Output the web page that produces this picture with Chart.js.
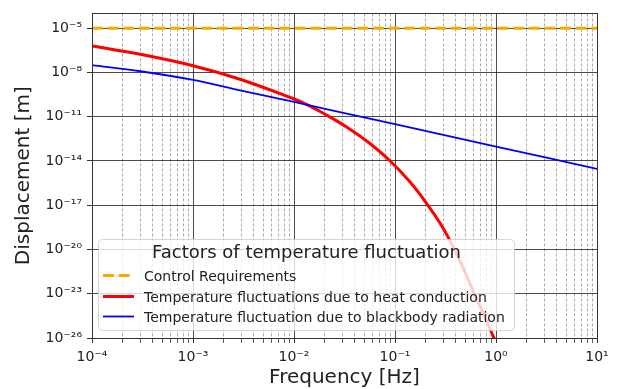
<!DOCTYPE html>
<html>
<head>
<meta charset="utf-8">
<title>Temperature fluctuation factors</title>
<script src="https://cdn.jsdelivr.net/npm/chart.js@4.4.1/dist/chart.umd.min.js"></script>
<style>
  body { margin: 0; background: #fff; }
  #wrap { width: 618px; height: 389px; position: relative; }
</style>
</head>
<body>
<div id="wrap"><canvas id="tempChart"></canvas></div>
<script>
// requirement level (flat)
const requirementFreq = [1e-4, 1e1];
const requirementDisp = [1e-5, 1e-5];

// displacement from heat conduction [Hz] / [m]
const heatFreq = [1e-4, 2.99e-4, 1e-3, 2.92e-3, 1.0e-2, 1.345e-2, 2.12e-2, 3.58e-2, 5.65e-2, 8.91e-2,
                  0.141, 0.207, 0.279, 0.351, 0.441, 0.553, 0.695, 0.955, 1.10];
const heatDisp = [6.2e-7, 1.7e-7, 2.85e-8, 3.44e-9, 1.58e-10, 6.55e-11, 1.24e-11, 1.43e-12, 1.53e-13, 1.03e-14,
                  3.72e-16, 1.25e-17, 6.19e-19, 3.85e-20, 1.63e-21, 4.7e-23, 1.36e-24, 9.8e-27, 8.3e-28];

// displacement from blackbody radiation
const bbFreq = [1e-4, 3.0e-4, 1e-3, 2.92e-3, 1.0e-2, 4.8e-2, 0.1, 1, 10];
const bbDisp = [3.1e-8, 1.2e-8, 3.1e-9, 6.0e-10, 1.0e-10, 9.3e-12, 3.1e-12, 9.5e-14, 2.9e-15];

const xDecades = [1e-4, 1e-3, 1e-2, 1e-1, 1e0, 1e1];
const xMinorSteps = [2, 3, 4, 5, 6, 7, 8, 9];
const yTicks = [1e-26, 1e-23, 1e-20, 1e-17, 1e-14, 1e-11, 1e-8, 1e-5];

const FONT = "'DejaVu Sans', sans-serif";
const TEXT = '#222';
const MAJOR_GRID = 'rgba(0,0,0,0.7)';
const MINOR_GRID = 'rgba(0,0,0,0.42)';

Chart.defaults.font.family = FONT;
Chart.defaults.color = TEXT;

const SUP = { '-': '\u207B', '0': '\u2070', '1': '\u00B9', '2': '\u00B2', '3': '\u00B3',
              '4': '\u2074', '5': '\u2075', '6': '\u2076', '7': '\u2077', '8': '\u2078', '9': '\u2079' };

function powerLabel(v) {
    const e = Math.round(Math.log10(v));
    return '10' + String(e).split('').map(c => SUP[c]).join('');
}

function isDecade(v) {
    if (!v) return false;
    const l = Math.log10(v);
    return Math.abs(l - Math.round(l)) < 1e-9;
}

function toPoints(xs, ys) {
    return xs.map((x, i) => ({ x: x, y: ys[i] }));
}

// every x tick: decades plus 2..9 within each decade
const xTicks = [];
xDecades.forEach((d, i) => {
    xTicks.push(d);
    if (i < xDecades.length - 1) xMinorSteps.forEach(m => xTicks.push(m * d));
});

function align(px, w) {
    const h = w / 2;
    return Math.round(px - h) + h;
}

// axes frame on all four sides
const framePlugin = {
    id: 'frame',
    afterDatasetsDraw(chart) {
        const a = chart.chartArea;
        const c = chart.ctx;
        c.save();
        c.strokeStyle = '#333';
        c.lineWidth = 1;
        const l = align(a.left, 1), r = align(a.right, 1), t = align(a.top, 1), b = align(a.bottom, 1);
        c.strokeRect(l, t, r - l, b - t);
        c.restore();
    }
};

// boxed legend with title, inside the plot area
const boxLegend = {
    id: 'boxLegend',
    afterDraw(chart) {
        const c = chart.ctx;
        const x0 = 98.5, y0 = 239.5, x1 = 514.5, y1 = 330.5, r = 4;
        c.save();
        c.beginPath();
        c.moveTo(x0 + r, y0);
        c.arcTo(x1, y0, x1, y1, r);
        c.arcTo(x1, y1, x0, y1, r);
        c.arcTo(x0, y1, x0, y0, r);
        c.arcTo(x0, y0, x1, y0, r);
        c.closePath();
        c.fillStyle = 'rgba(255,255,255,0.8)';
        c.fill();
        c.strokeStyle = 'rgba(204,204,204,0.8)';
        c.lineWidth = 1;
        c.stroke();

        c.fillStyle = TEXT;
        c.textAlign = 'center';
        c.textBaseline = 'alphabetic';
        c.font = '18px ' + FONT;
        c.fillText('Factors of temperature fluctuation', (x0 + x1) / 2, 258);

        c.textAlign = 'left';
        c.font = '14px ' + FONT;
        const rows = [275.5, 296.5, 316.5];
        chart.data.datasets.forEach((ds, i) => {
            const y = rows[i];
            c.beginPath();
            c.strokeStyle = ds.borderColor;
            c.lineWidth = ds.borderWidth;
            c.setLineDash(ds.borderDash || []);
            c.moveTo(103, y);
            c.lineTo(134, y);
            c.stroke();
            c.setLineDash([]);
            c.fillText(ds.label, 144, y + 5);
        });
        c.restore();
    }
};

const ctx = document.getElementById('tempChart').getContext('2d');
new Chart(ctx, {
    type: 'line',
    data: {
        datasets: [
            {
                label: 'Control Requirements',
                data: toPoints(requirementFreq, requirementDisp),
                borderColor: '#ffa500',
                borderWidth: 3,
                borderDash: [11, 4.6],
                clip: 0,
                order: 2
            },
            {
                label: 'Temperature fluctuations due to heat conduction',
                data: toPoints(heatFreq, heatDisp),
                borderColor: '#ff0000',
                borderWidth: 3,
                tension: 0.4,
                clip: 0,
                order: 1
            },
            {
                label: 'Temperature fluctuation due to blackbody radiation',
                data: toPoints(bbFreq, bbDisp),
                borderColor: '#0000ff',
                borderWidth: 1.8,
                tension: 0.35,
                clip: 0,
                order: 0
            }
        ]
    },
    options: {
        responsive: true,
        maintainAspectRatio: false,
        animation: false,
        layout: { padding: { top: 10, right: 21, left: 0, bottom: 0 } },
        elements: { point: { radius: 0 } },
        plugins: {
            legend: { display: false },
            tooltip: { enabled: false }
        },
        scales: {
            x: {
                type: 'logarithmic',
                min: 1e-4,
                max: 1e1,
                afterBuildTicks: s => { s.ticks = xTicks.map(v => ({ value: v })); },
                afterFit: s => { s.height = 51; },
                ticks: {
                    autoSkip: false,
                    maxRotation: 0,
                    minRotation: 0,
                    padding: 6,
                    font: { size: 14 },
                    color: TEXT,
                    callback: v => isDecade(v) ? powerLabel(v) : ''
                },
                grid: {
                    color: c => isDecade(c.tick && c.tick.value) ? MAJOR_GRID : MINOR_GRID,
                    lineWidth: c => isDecade(c.tick && c.tick.value) ? 1 : 0.8,
                    tickColor: '#333',
                    tickLength: 5
                },
                border: {
                    display: false,
                    dash: c => (c.tick && !isDecade(c.tick.value)) ? [3, 2] : []
                },
                title: {
                    display: true,
                    text: 'Frequency [Hz]',
                    color: TEXT,
                    font: { size: 20, lineHeight: 1.1 },
                    padding: { top: 0, bottom: 0 }
                }
            },
            y: {
                type: 'logarithmic',
                min: 1e-26,
                max: 1e-4,
                afterBuildTicks: s => { s.ticks = yTicks.map(v => ({ value: v })); },
                afterFit: s => { s.width = 92; },
                ticks: {
                    autoSkip: false,
                    padding: 5,
                    font: { size: 14 },
                    color: TEXT,
                    callback: v => powerLabel(v)
                },
                grid: {
                    color: MAJOR_GRID,
                    lineWidth: 1,
                    tickColor: '#333',
                    tickLength: 5
                },
                border: { display: false },
                title: {
                    display: true,
                    text: 'Displacement [m]',
                    color: TEXT,
                    font: { size: 20, lineHeight: 1.2 },
                    padding: { top: 12, bottom: 0 }
                }
            }
        }
    },
    plugins: [framePlugin, boxLegend]
});
</script>
</body>
</html>
